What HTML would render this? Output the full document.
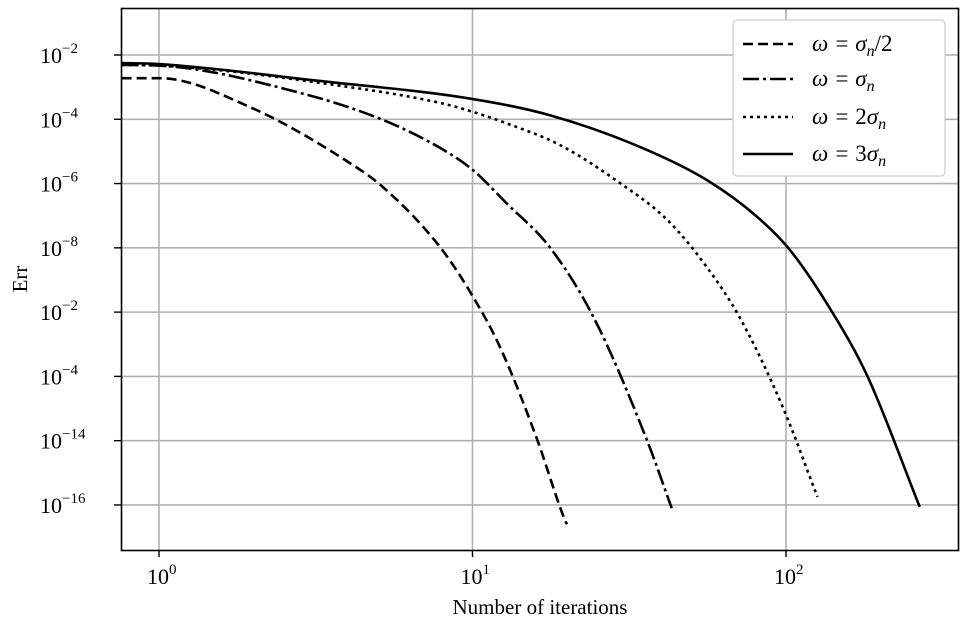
<!DOCTYPE html>
<html><head><meta charset="utf-8"><style>
body{margin:0;background:#fff}
svg{display:block;font-family:"Liberation Serif","DejaVu Serif",serif}
</style></head><body>
<svg id="chart" width="969" height="629">
<g id="grid"></g>
<g id="series"></g>
<rect x="121.5" y="8.5" width="837" height="542" fill="none" stroke="#000" stroke-width="1.6"/>
<g id="ticks"></g>
<text x="540" y="614" font-size="21" text-anchor="middle">Number of iterations</text>
<text transform="translate(27,279) rotate(-90)" font-size="21" text-anchor="middle">Err</text>
<g>
<rect x="733" y="20" width="212" height="156" rx="4" fill="#fff" stroke="#ccc" stroke-width="1.2"/>
<g><line x1="743" x2="793" y1="44" y2="44" stroke="#000" stroke-width="2.6" stroke-dasharray="10,5"/><text x="812" y="51" font-size="23" font-style="italic">ω = σ<tspan font-size="16" dy="5">n</tspan><tspan dy="-5" font-style="normal">/2</tspan></text></g>
<g><line x1="743" x2="793" y1="79" y2="79" stroke="#000" stroke-width="2.6" stroke-dasharray="16,4,3,4"/><text x="812" y="86" font-size="23" font-style="italic">ω = σ<tspan font-size="16" dy="5">n</tspan></text></g>
<g><line x1="743" x2="793" y1="117" y2="117" stroke="#000" stroke-width="2.6" stroke-dasharray="3,4"/><text x="812" y="124" font-size="23" font-style="italic">ω = <tspan font-style="normal">2</tspan>σ<tspan font-size="16" dy="5">n</tspan></text></g>
<g><line x1="743" x2="793" y1="154" y2="154" stroke="#000" stroke-width="2.6"/><text x="812" y="161" font-size="23" font-style="italic">ω = <tspan font-style="normal">3</tspan>σ<tspan font-size="16" dy="5">n</tspan></text></g>
</g>
</svg>
<script>
const xTickExps=[0,1,2];
const yTickExps=[-2,-4,-6,-8,-10,-12,-14,-16];
const yTickLabels=["−2","−4","−6","−8","−2","−4","−14","−16"];
const halfX=[0.76,1,1.95,4.06,5.18,7.87,10.05,12.24,16.1,19.4,20];
const halfE=[-2.72,-2.72,-3.62,-5.36,-6.11,-7.97,-9.53,-11.09,-13.98,-16.3,-16.6];
const oneX=[0.76,1,2.82,5.18,7.88,10.03,12.8,17.6,24.3,36,43.2];
const oneE=[-2.31,-2.33,-3.18,-4.02,-4.89,-5.58,-6.6,-7.97,-10.15,-13.98,-16.1];
const twoX=[0.76,1,4.06,7.88,10.03,12.8,19,29.5,41.8,55.9,71,97.6,126];
const twoE=[-2.31,-2.33,-3.0,-3.49,-3.77,-4.12,-4.8,-5.98,-7.13,-8.6,-10.15,-12.95,-15.75];
const threeX=[0.76,1,3.2,10.03,17.6,34.2,55.9,81,103,141,182,267];
const threeE=[-2.25,-2.28,-2.8,-3.37,-3.87,-4.86,-5.89,-7.04,-8.07,-10.03,-12.0,-16.06];
const NS="http://www.w3.org/2000/svg";
function sx(v){return 159+Math.log10(v)*313.5;}
function sy(e){return 55+(-2-e)*32.14;}
function mk(t,a,p){const el=document.createElementNS(NS,t);for(const k in a)el.setAttribute(k,a[k]);p.appendChild(el);return el;}
const grid=document.getElementById('grid'),ticks=document.getElementById('ticks'),ser=document.getElementById('series');
xTickExps.forEach(e=>{const x=sx(Math.pow(10,e));
 const g=mk('line',{x1:x,x2:x,y1:8,y2:550,stroke:'#b0b0b0','stroke-width':1.6},grid);
 
 
 mk('line',{x1:x,x2:x,y1:550,y2:557,stroke:'#000','stroke-width':1.4},ticks);
 const t=mk('text',{x:x-12,y:584,'font-size':22},ticks);
 
 
 t.innerHTML='10<tspan font-size="15" dy="-10">'+e+'</tspan>';});
yTickExps.forEach((e,i)=>{const y=sy(e);
 const g=mk('line',{x1:121,x2:958,y1:y,y2:y,stroke:'#b0b0b0','stroke-width':1.6},grid);
 
 
 mk('line',{x1:114,x2:121,y1:y,y2:y,stroke:'#000','stroke-width':1.4},ticks);
 const t=mk('text',{x:40,y:y+8,'font-size':22},ticks);
 
 
 t.innerHTML='10<tspan font-size="15" dy="-10">'+yTickLabels[i]+'</tspan>';});
function curve(xs,es,dash,name){
 const P=xs.map((v,i)=>[sx(v),sy(es[i])]);const n=P.length;
 const d=[],m=[];
 for(let i=0;i<n-1;i++)d.push((P[i+1][1]-P[i][1])/(P[i+1][0]-P[i][0]));
 m[0]=d[0];m[n-1]=d[n-2];
 for(let i=1;i<n-1;i++){m[i]=(d[i-1]*d[i]<=0)?0:(d[i-1]+d[i])/2;}
 for(let i=0;i<n-1;i++){if(d[i]===0){m[i]=0;m[i+1]=0;continue;}const a=m[i]/d[i],b=m[i+1]/d[i],s=a*a+b*b;if(s>9){const t=3/Math.sqrt(s);m[i]=t*a*d[i];m[i+1]=t*b*d[i];}}
 let s='M'+P[0][0]+','+P[0][1];
 for(let i=0;i<n-1;i++){const h=(P[i+1][0]-P[i][0])/3;
  s+=' C'+(P[i][0]+h)+','+(P[i][1]+m[i]*h)+' '+(P[i+1][0]-h)+','+(P[i+1][1]-m[i+1]*h)+' '+P[i+1][0]+','+P[i+1][1];}
 const p=mk('path',{d:s,fill:'none',stroke:'#000','stroke-width':2.6,'stroke-dasharray':dash},ser);
 
 
}
curve(halfX,halfE,'10,5','series-half-sigma');
curve(oneX,oneE,'16,4,3,4','series-sigma');
curve(twoX,twoE,'3,4','series-2sigma');
curve(threeX,threeE,'none','series-3sigma');
</script>
</body></html>
